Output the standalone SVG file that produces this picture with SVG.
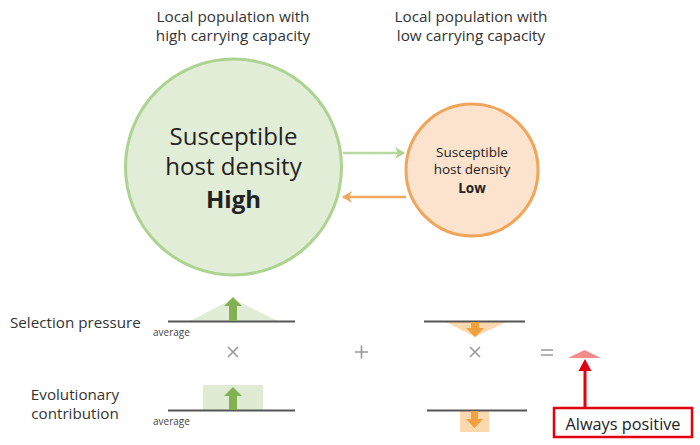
<svg xmlns="http://www.w3.org/2000/svg" width="700" height="445" viewBox="0 0 700 445">
<style>
text{font-family:"Open Sans","Noto Sans","Liberation Sans",sans-serif;fill:#222}
.hdr{font-size:15.3px;text-anchor:middle;fill:#333}
.big{font-size:24px;text-anchor:middle}
.sm{font-size:13.5px;text-anchor:middle}
.lbl{font-size:15.2px;fill:#333}
.avg{font-size:10px;fill:#444}
.base{stroke:#555;stroke-width:2}
.op{stroke:#999;stroke-width:1.6;fill:none}
</style>
<defs>
<marker id="hg" markerWidth="10" markerHeight="12" refX="9" refY="6" orient="auto" markerUnits="userSpaceOnUse">
<path d="M0,0 L10,6 L0,12 L3,6 Z" fill="#aed491"/>
</marker>
<marker id="ho" markerWidth="10" markerHeight="12" refX="9" refY="6" orient="auto" markerUnits="userSpaceOnUse">
<path d="M0,0 L10,6 L0,12 L3,6 Z" fill="#f2a65e"/>
</marker>
</defs>
<rect width="700" height="445" fill="#fff"/>

<g id="header-high">
<text class="hdr" x="233" y="22">Local population with</text>
<text class="hdr" x="233" y="41">high carrying capacity</text>
</g>
<g id="header-low">
<text class="hdr" x="471" y="22">Local population with</text>
<text class="hdr" x="471" y="41">low carrying capacity</text>
</g>

<g id="node-high">
<circle cx="233.5" cy="167" r="108" fill="#e2edd8" stroke="#acd38f" stroke-width="3"/>
<text class="big" x="233.5" y="145">Susceptible</text>
<text class="big" x="233.5" y="175">host density</text>
<text class="big" x="233.5" y="208" font-weight="bold" font-size="26" fill="#111">High</text>
</g>

<g id="node-low">
<circle cx="472" cy="170" r="66" fill="#fbe3cd" stroke="#f0a55a" stroke-width="3"/>
<text class="sm" x="472" y="157">Susceptible</text>
<text class="sm" x="472" y="174">host density</text>
<text class="sm" x="472" y="193" font-weight="bold" fill="#111">Low</text>
</g>

<g id="connectors">
<line x1="343" y1="153" x2="404" y2="153" stroke="#b6daa0" stroke-width="2.5" marker-end="url(#hg)"/>
<line x1="406" y1="197" x2="343" y2="197" stroke="#f2a65e" stroke-width="2.5" marker-end="url(#ho)"/>
</g>

<g id="label-selection">
<text class="lbl" x="10" y="328">Selection pressure</text>
</g>
<g id="label-evolutionary">
<text class="lbl" x="75" y="400" text-anchor="middle">Evolutionary</text>
<text class="lbl" x="75" y="419" text-anchor="middle">contribution</text>
</g>

<g id="selection-high">
<polygon points="190,321 233,299 278,321" fill="#e1ecd6"/>
<line class="base" x1="168" y1="321.5" x2="295" y2="321.5"/>
<polygon points="229,321 229,306 224,306 233,297 242,306 237,306 237,321" fill="#82b153"/>
<text class="avg" x="153" y="336">average</text>
</g>

<g id="contribution-high">
<rect x="203" y="385" width="60" height="25" fill="#dfebd3"/>
<line class="base" x1="168" y1="410.5" x2="295" y2="410.5"/>
<polygon points="229,410 229,396 224,396 233,387 242,396 237,396 237,410" fill="#82b153"/>
<text class="avg" x="153" y="425">average</text>
</g>

<g id="selection-low">
<polygon points="446,322 506,322 475,337" fill="#fcd8ae"/>
<line class="base" x1="424" y1="321.5" x2="525" y2="321.5"/>
<polygon points="471,322 471,328 466,328 475,337 484,328 479,328 479,322" fill="#f1a03e"/>
</g>

<g id="contribution-low">
<rect x="460" y="411" width="29" height="21" fill="#fcd8ae"/>
<line class="base" x1="427" y1="410.5" x2="527" y2="410.5"/>
<polygon points="471,411 471,419 466,419 474.5,428 483,419 478,419 478,411" fill="#f1a03e"/>
</g>

<g id="operators">
<path class="op" d="M228,347 L238,357 M238,347 L228,357"/>
<path class="op" d="M470,347 L480,357 M480,347 L470,357"/>
<path class="op" d="M355,352 L368,352 M361.5,345.5 L361.5,358.5" stroke-width="1.8"/>
<path class="op" d="M541,350 L553,350 M541,355 L553,355" stroke-width="1.5"/>
</g>

<g id="result">
<polygon points="568,358 601,358 584.5,350" fill="#f28b8b"/>
</g>

<g id="always-positive">
<line x1="585" y1="408" x2="585" y2="369" stroke="#e3000f" stroke-width="3"/>
<polygon points="578.5,371 591.5,371 585,359" fill="#e3000f"/>
<rect x="554" y="408" width="138" height="29" fill="#fff" stroke="#e3000f" stroke-width="2.5"/>
<text x="623" y="429.5" font-size="16.3" text-anchor="middle" fill="#111">Always positive</text>
</g>
</svg>
